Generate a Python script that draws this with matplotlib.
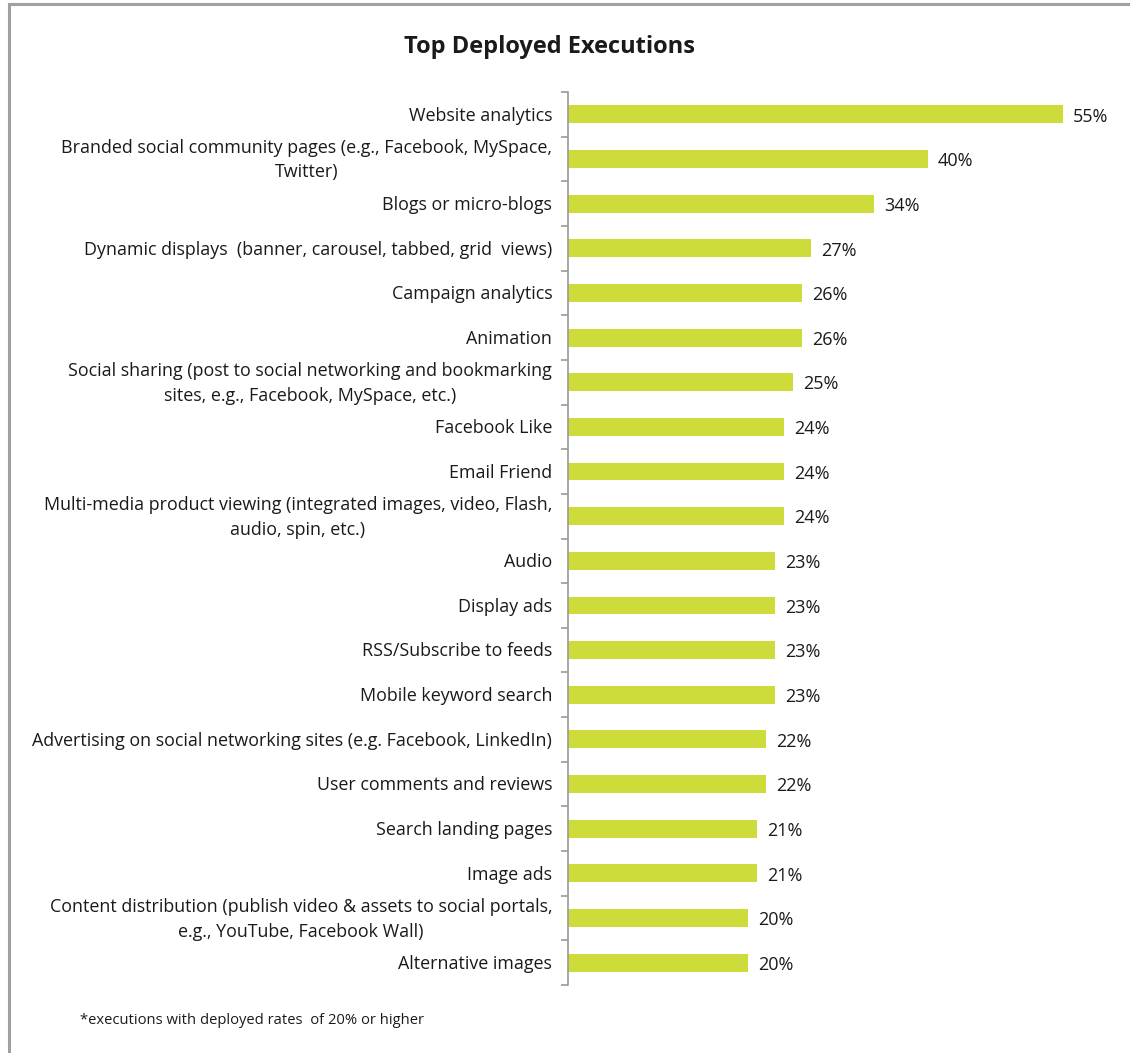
import matplotlib.pyplot as plt
from matplotlib.lines import Line2D

plt.rcParams['font.family'] = ['Open Sans', 'DejaVu Sans']

categories = [
    'Website analytics',
    'Branded social community pages (e.g., Facebook, MySpace,\nTwitter)',
    'Blogs or micro-blogs',
    'Dynamic displays  (banner, carousel, tabbed, grid  views)',
    'Campaign analytics',
    'Animation',
    'Social sharing (post to social networking and bookmarking\nsites, e.g., Facebook, MySpace, etc.)',
    'Facebook Like',
    'Email Friend',
    'Multi-media product viewing (integrated images, video, Flash,\naudio, spin, etc.)',
    'Audio',
    'Display ads',
    'RSS/Subscribe to feeds',
    'Mobile keyword search',
    'Advertising on social networking sites (e.g. Facebook, LinkedIn)',
    'User comments and reviews',
    'Search landing pages',
    'Image ads',
    'Content distribution (publish video & assets to social portals,\ne.g., YouTube, Facebook Wall)',
    'Alternative images',
]
values = [55, 40, 34, 27, 26, 26, 25, 24, 24, 24, 23, 23, 23, 23, 22, 22, 21, 21, 20, 20]

title = 'Top Deployed Executions'
note = '*executions with deployed rates  of 20% or higher'

bar_color = '#cddc3b'
text_color = '#1a1a1a'
axis_color = '#9a9a9a'

W, H = 1130, 1053
fig = plt.figure(figsize=(W / 100, H / 100), dpi=100)

# axes: y-axis line at x=568, rows span y=92..985
ax_left, ax_right = 568, 1108
ax_top, ax_bot = 92, 985
ax = fig.add_axes([ax_left / W, 1 - ax_bot / H, (ax_right - ax_left) / W, (ax_bot - ax_top) / H])

n = len(categories)
ypos = list(range(n))
ax.barh(ypos, values, height=0.4, color=bar_color, edgecolor='none')
ax.set_ylim(n - 0.5, -0.5)
ax.set_xlim(0, 60)

for y, v in zip(ypos, values):
    ax.text(v + 1.1, y + 0.05, f'{v}%', va='center', ha='left', fontsize=13, color=text_color)

# category labels centred as a block, right-aligned against the axis
for y, c in zip(ypos, categories):
    ax.text(-1.75, y + 0.03, c, ha='right', va='center', multialignment='center',
            fontsize=12.9, color=text_color, linespacing=1.45)

ax.set_yticks([i - 0.5 for i in range(n + 1)])
ax.set_yticklabels([])
ax.tick_params(axis='y', length=5, width=1.2, color=axis_color, direction='out')
ax.set_xticks([])
for s in ['top', 'right', 'bottom']:
    ax.spines[s].set_visible(False)
ax.spines['left'].set_color(axis_color)
ax.spines['left'].set_linewidth(1.2)

fig.text(549 / W, 1 - 47 / H, title, ha='center', va='center', fontsize=17,
         fontweight='bold', color=text_color)
fig.text(80 / W, 1 - 1021 / H, note, ha='left', va='center', fontsize=10.6, color=text_color)

# frame lines on the left and top
fig.add_artist(Line2D([8.5 / W, 8.5 / W], [0, 1 - 4 / H], color='#a0a0a0', lw=2.2,
                      transform=fig.transFigure))
fig.add_artist(Line2D([8.5 / W, 1], [1 - 4 / H, 1 - 4 / H], color='#a0a0a0', lw=2.2,
                      transform=fig.transFigure))

fig.savefig('out.png', dpi=100, facecolor='white')
